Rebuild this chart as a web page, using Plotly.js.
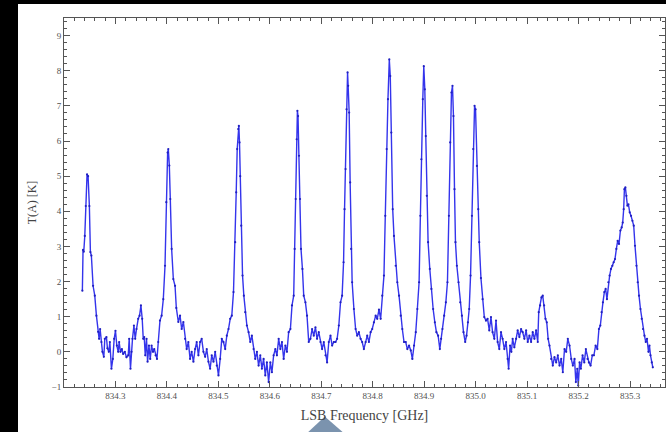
<!DOCTYPE html>
<html>
<head>
<meta charset="utf-8">
<script src="https://cdn.plot.ly/plotly-3.0.1.min.js"></script>
<style>
html,body{margin:0;padding:0;background:#000;width:666px;height:432px;overflow:hidden;}
#chart{position:absolute;left:18px;top:4px;width:648px;height:428px;}
</style>
</head>
<body>
<div id="chart"></div>
<script>
// LSB frequency [GHz]
var freq = [
834.2357,834.2370,834.2384,834.2404,834.2423,834.2448,834.2468,834.2493,834.2513,834.2532,
834.2565,834.2598,834.2630,834.2663,834.2682,834.2702,834.2727,834.2747,834.2774,834.2793,
834.2825,834.2844,834.2871,834.2891,834.2922,834.2949,834.2975,834.3000,834.3027,834.3053,
834.3072,834.3097,834.3125,834.3150,834.3183,834.3214,834.3248,834.3267,834.3292,834.3312,
834.3331,834.3359,834.3384,834.3409,834.3442,834.3468,834.3495,834.3520,834.3540,834.3559,
834.3579,834.3604,834.3624,834.3651,834.3676,834.3702,834.3729,834.3754,834.3780,834.3807,
834.3832,834.3865,834.3897,834.3930,834.3963,834.3988,834.4014,834.4027,834.4047,834.4066,
834.4092,834.4125,834.4158,834.4183,834.4222,834.4255,834.4287,834.4320,834.4353,834.4384,
834.4417,834.4450,834.4481,834.4515,834.4548,834.4579,834.4612,834.4645,834.4676,834.4710,
834.4743,834.4774,834.4807,834.4840,834.4871,834.4905,834.4938,834.4969,834.5002,834.5035,
834.5066,834.5099,834.5133,834.5164,834.5197,834.5230,834.5261,834.5294,834.5327,834.5347,
834.5366,834.5386,834.5398,834.5411,834.5425,834.5444,834.5470,834.5495,834.5522,834.5554,
834.5587,834.5620,834.5651,834.5684,834.5717,834.5749,834.5782,834.5815,834.5846,834.5879,
834.5912,834.5943,834.5977,834.6010,834.6041,834.6074,834.6107,834.6138,834.6172,834.6205,
834.6236,834.6269,834.6302,834.6333,834.6366,834.6400,834.6431,834.6464,834.6483,834.6503,
834.6522,834.6536,834.6548,834.6567,834.6587,834.6606,834.6634,834.6659,834.6692,834.6723,
834.6756,834.6789,834.6821,834.6854,834.6887,834.6918,834.6951,834.6984,834.7016,834.7049,
834.7082,834.7113,834.7146,834.7179,834.7211,834.7244,834.7277,834.7308,834.7341,834.7374,
834.7405,834.7433,834.7452,834.7472,834.7491,834.7511,834.7522,834.7542,834.7561,834.7581,
834.7600,834.7634,834.7667,834.7698,834.7731,834.7764,834.7795,834.7828,834.7862,834.7893,
834.7926,834.7959,834.7990,834.8023,834.8057,834.8088,834.8121,834.8154,834.8185,834.8218,
834.8244,834.8271,834.8296,834.8322,834.8341,834.8361,834.8388,834.8413,834.8446,834.8478,
834.8511,834.8544,834.8575,834.8608,834.8641,834.8673,834.8706,834.8739,834.8770,834.8803,
834.8836,834.8867,834.8901,834.8926,834.8945,834.8973,834.8992,834.9012,834.9031,834.9051,
834.9076,834.9109,834.9140,834.9174,834.9207,834.9238,834.9271,834.9304,834.9329,834.9355,
834.9388,834.9421,834.9452,834.9480,834.9505,834.9530,834.9550,834.9569,834.9589,834.9608,
834.9635,834.9667,834.9700,834.9733,834.9764,834.9797,834.9823,834.9850,834.9875,834.9901,
834.9928,834.9953,834.9979,834.9998,835.0025,835.0051,835.0070,835.0103,835.0135,835.0168,
835.0201,835.0232,835.0265,835.0298,835.0329,835.0363,835.0396,835.0427,835.0460,835.0493,
835.0524,835.0558,835.0591,835.0622,835.0641,835.0669,835.0694,835.0719,835.0752,835.0786,
835.0817,835.0850,835.0883,835.0914,835.0947,835.0981,835.1012,835.1045,835.1078,835.1109,
835.1142,835.1175,835.1207,835.1226,835.1253,835.1279,835.1304,835.1331,835.1357,835.1382,
835.1409,835.1435,835.1468,835.1499,835.1532,835.1565,835.1597,835.1630,835.1663,835.1694,
835.1727,835.1760,835.1791,835.1825,835.1858,835.1889,835.1922,835.1947,835.1975,835.1994,
835.2020,835.2045,835.2078,835.2111,835.2142,835.2175,835.2201,835.2234,835.2267,835.2298,
835.2331,835.2365,835.2396,835.2423,835.2448,835.2474,835.2501,835.2526,835.2552,835.2579,
835.2604,835.2630,835.2657,835.2682,835.2708,835.2735,835.2760,835.2786,835.2813,835.2838,
835.2858,835.2877,835.2891,835.2910,835.2930,835.2949,835.2969,835.2994,835.3020,835.3047,
835.3072,835.3097,835.3125,835.3150,835.3175,835.3203,835.3228,835.3253,835.3281,835.3306,
835.3331,835.3359,835.3378,835.3398,835.3423,835.3443
];
// antenna temperature T(A) [K]
var tA = [
1.74,2.90,2.85,3.30,4.15,5.05,5.00,4.15,2.84,2.74,
1.88,1.60,1.03,0.57,0.37,0.65,0.28,0.00,-0.14,0.37,
0.42,0.10,0.00,0.28,-0.48,-0.20,0.37,0.60,0.18,0.00,
0.28,0.00,0.08,-0.06,0.00,-0.15,-0.10,0.37,-0.48,0.00,
0.37,0.75,0.37,0.65,0.94,1.03,1.32,0.94,0.37,0.42,
-0.10,0.37,-0.28,0.18,-0.20,0.18,0.00,0.08,-0.10,-0.20,
0.28,0.89,1.03,1.50,2.45,4.26,5.67,5.77,5.30,4.35,
2.93,2.07,1.88,1.25,0.85,1.03,0.65,0.85,0.37,0.08,
0.28,-0.20,0.00,-0.28,0.08,0.28,-0.10,0.28,0.37,0.00,
-0.14,0.08,-0.28,-0.48,-0.10,-0.28,0.00,-0.39,-0.67,-0.20,
0.37,0.28,0.08,0.46,0.65,0.94,1.03,1.70,3.12,4.54,
5.77,6.34,6.43,5.96,5.00,3.59,2.17,1.60,1.13,0.75,
0.56,0.28,0.46,0.08,-0.20,0.00,-0.39,-0.10,-0.48,-0.20,
-0.67,-0.30,-0.86,-0.30,-0.58,-0.10,0.08,-0.10,0.37,0.08,
0.28,-0.20,0.18,0.00,0.56,0.65,1.32,1.60,2.93,4.35,
6.05,6.86,6.71,5.58,4.35,2.93,2.36,1.60,1.41,1.03,
0.28,0.37,0.65,0.46,0.70,0.37,0.56,0.28,0.08,0.28,
-0.10,-0.30,0.28,0.46,0.18,0.28,0.28,0.37,0.75,1.41,
1.60,2.55,4.06,5.20,6.90,7.95,7.57,6.81,4.82,2.93,
1.98,1.22,0.65,0.46,0.56,0.37,0.28,0.08,0.28,0.46,
0.28,0.56,0.65,0.84,1.03,0.94,1.20,0.94,1.60,2.17,
3.87,5.77,7.19,8.32,7.85,6.24,4.06,3.30,2.45,1.98,
1.60,1.03,0.65,0.28,0.28,0.08,0.18,0.04,-0.20,0.18,
0.56,1.22,1.98,3.87,5.48,7.19,8.13,7.47,6.14,4.44,
3.12,2.36,1.79,1.22,0.84,0.56,0.46,0.08,0.37,0.65,
1.03,1.41,1.98,3.87,5.96,7.38,7.57,6.71,4.63,3.12,
2.45,1.98,1.41,1.03,0.56,0.28,0.46,0.84,1.22,2.17,
3.87,5.77,7.00,6.90,5.29,4.06,3.12,2.10,1.50,0.99,
0.89,0.94,0.61,0.99,0.56,0.37,0.89,0.28,0.08,0.56,
0.37,0.08,0.28,-0.20,-0.48,0.18,0.00,0.37,0.13,0.37,
0.61,0.42,0.65,0.56,0.37,0.61,0.28,0.46,0.28,0.56,
0.37,0.61,0.28,1.13,1.32,1.55,1.60,1.32,0.94,0.84,
0.37,0.18,-0.20,-0.39,-0.15,-0.30,-0.10,-0.39,-0.20,-0.58,
0.08,0.00,0.37,0.18,-0.20,-0.39,-0.20,-0.86,-0.48,-0.96,
-0.30,-0.48,-0.10,-0.30,0.08,-0.20,-0.30,-0.39,-0.10,-0.10,
0.18,0.08,0.65,0.75,1.13,1.41,1.70,1.79,1.50,1.98,
2.17,2.36,2.45,2.55,2.64,2.93,3.16,3.07,3.45,3.54,
3.68,4.06,4.63,4.68,4.44,4.16,4.20,3.97,3.87,3.73,
3.59,3.02,2.45,1.98,1.60,1.22,0.94,0.65,0.46,0.28,
0.37,0.00,0.18,-0.10,-0.30,-0.44
];
var xTickVals = [834.3,834.4,834.5,834.6,834.7,834.8,834.9,835.0,835.1,835.2,835.3];
var xTickText = ['834.3','834.4','834.5','834.6','834.7','834.8','834.9','835.0','835.1','835.2','835.3'];
var yTickVals = [-1,0,1,2,3,4,5,6,7,8,9];

var serif = 'Liberation Serif, Times New Roman, serif';
var axisCommon = {
  showgrid:false, zeroline:false, showline:true, linecolor:'#555', linewidth:1,
  mirror:'ticks', ticks:'inside', ticklen:6, tickcolor:'#555', tickwidth:1,
  tickfont:{family:serif, size:9, color:'#505050'}
};

var trace = {
  x: freq, y: tA, type:'scatter', mode:'lines+markers',
  line:{color:'#3434ec', width:1.4},
  marker:{color:'#2020c0', size:2.2},
  hoverinfo:'skip'
};

var layout = {
  width:648, height:428,
  margin:{l:46, r:1, t:14, b:45},
  paper_bgcolor:'#ffffff', plot_bgcolor:'#ffffff',
  showlegend:false,
  xaxis: Object.assign({}, axisCommon, {
    range:[834.2, 835.368], tickmode:'array', tickvals:xTickVals, ticktext:xTickText,
    minor:{dtick:0.02, tick0:834.2, ticks:'inside', ticklen:3, tickcolor:'#555', tickwidth:1},
    title:{text:'LSB Frequency [GHz]', font:{family:serif, size:14, color:'#444'}, standoff:10},
    automargin:false
  }),
  yaxis: Object.assign({}, axisCommon, {
    range:[-1, 9.5], tickmode:'array', tickvals:yTickVals,
    minor:{dtick:0.2, tick0:-1, ticks:'inside', ticklen:3, tickcolor:'#555', tickwidth:1},
    title:{text:'T(A) [K]', font:{family:serif, size:12, color:'#444'}, standoff:12},
    automargin:false
  }),
  shapes:[{
    type:'path', xref:'paper', yref:'paper', layer:'below',
    path:'M 0.4339 -0.0802 L 0.4060 -0.1226 L 0.4640 -0.1226 Z',
    fillcolor:'#7b93ae', line:{width:0}
  }]
};

Plotly.newPlot('chart', [trace], layout, {staticPlot:true, displayModeBar:false});
</script>
</body>
</html>
